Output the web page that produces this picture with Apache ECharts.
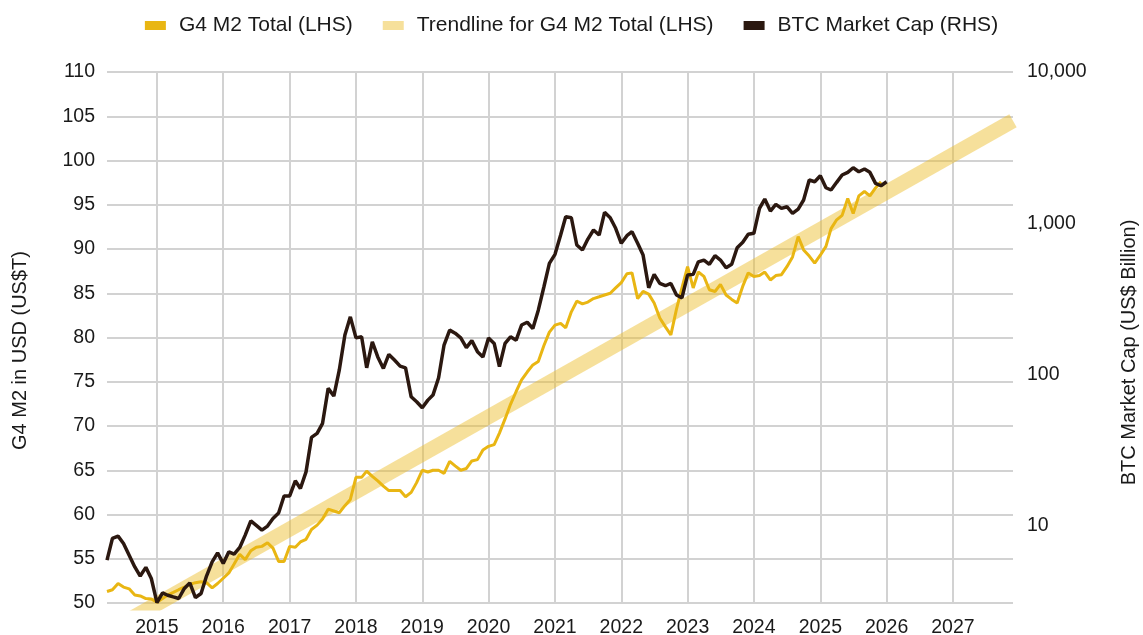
<!DOCTYPE html>
<html>
<head>
<meta charset="utf-8">
<script src="https://cdn.jsdelivr.net/npm/echarts@6/dist/echarts.min.js"></script>
<style>
  html, body { margin: 0; padding: 0; background: #fff; }
  #main { width: 1143px; height: 635px; }
</style>
</head>
<body>
<div id="main"></div>
<script>
// monthly points, first one is April 2014
const startYear = 2014
const startMonth = 4

// G4 M2 total, US$ trillion (LHS), Apr 2014 .. Dec 2025
const m2Values = [
  51.3, 51.5, 52.2, 51.8, 51.6, 50.9, 50.8, 50.5, 50.45,
  50.1, 50.5, 50.9, 51.2, 51.5, 51.8, 52.1, 52.3, 52.4, 52.3, 51.7, 52.2,
  52.8, 53.4, 54.4, 55.5, 54.9, 55.9, 56.3, 56.4, 56.8, 56.2, 54.7, 54.7,
  56.4, 56.3, 56.9, 57.2, 58.3, 58.8, 59.5, 60.6, 60.4, 60.2, 61.0, 61.7,
  64.2, 64.2, 64.9, 64.3, 63.8, 63.2, 62.7, 62.7, 62.7, 62.0, 62.5, 63.6,
  65.0, 64.8, 65.0, 65.0, 64.65, 66.0, 65.5, 65.0, 65.2, 66.05, 66.2, 67.3,
  67.7, 67.9, 69.2, 70.8, 72.45, 73.9, 75.2, 76.1, 76.9, 77.3, 79.1, 80.6,
  81.4, 81.6, 81.1, 82.9, 84.1, 83.8, 84.0, 84.4, 84.6, 84.8, 85.0, 85.6,
  86.2, 87.2, 87.3, 84.4, 85.2, 84.9, 83.9, 82.2, 81.2, 80.3, 83.2, 85.6,
  88.0, 85.6, 87.4, 86.9, 85.4, 85.2, 86.0, 84.8, 84.3, 83.9, 85.8, 87.3,
  86.9, 87.0, 87.4, 86.5, 87.0, 87.1, 88.0, 89.1, 91.4, 89.9, 89.2, 88.4,
  89.3, 90.3, 92.3, 93.3, 93.8, 95.7, 94.0, 96.0, 96.5, 96.0, 96.9, 97.6
]

// BTC market cap, US$ billion (RHS), Apr 2014 .. Jan 2026
const btcValues = [
  5.95, 8.28, 8.58, 7.67, 6.42, 5.37, 4.67, 5.33, 4.50,
  3.12, 3.62, 3.49, 3.40, 3.32, 3.87, 4.21, 3.37, 3.58, 4.67, 5.80, 6.65,
  5.66, 6.75, 6.52, 7.22, 8.71, 10.8, 10.1, 9.40, 9.99, 11.2, 12.2, 15.8,
  15.8, 19.9, 17.7, 22.8, 38.5, 40.9, 47.7, 81.2, 72.2, 107, 183, 241,
  175, 178, 111, 165, 131, 110, 136, 125, 114, 111, 71.4, 66.2,
  60.4, 67.9, 73.3, 95.4, 157, 197, 188, 175, 151, 168, 142, 131,
  175, 161, 113, 161, 178, 169, 213, 222, 202, 267, 381, 544,
  624, 837, 1106, 1089, 719, 666, 787, 903, 837, 1182, 1089, 927,
  738, 828, 880, 738, 617, 375, 460, 401, 387, 401, 336, 322,
  455, 460, 557, 572, 536, 611, 572, 509, 536, 690, 749, 846,
  859, 1256, 1447, 1206, 1335, 1256, 1288, 1165, 1243, 1426, 1933, 1884,
  2064, 1719, 1660, 1866, 2085, 2173, 2331, 2193, 2285, 2173, 1838, 1772,
  1884
]

// linear trend of G4 M2 (LHS), end points
const trendDates = ['2014-04-01', '2027-11-28']
const trendValues = [46.7, 104.5]

const leftTicks = { min: 50, max: 110, step: 5 }
const rightTicks = { min: 3.1, max: 10000 }
const xRange = ['2014-04-01', '2027-11-28']

let months = []
for (let i = 0; i < btcValues.length; i++) {
    let k = startMonth - 1 + i
    let y = startYear + Math.floor(k / 12)
    let mo = k % 12 + 1
    months.push(y + '-' + String(mo).padStart(2, '0') + '-01')
}

const font = "'Liberation Sans', Arial, sans-serif"
const YEAR = 365.25 * 24 * 3600 * 1000

var myChart = echarts.init(document.getElementById('main'))

var option = {
    animation: false,
    backgroundColor: '#fff',
    textStyle: { fontFamily: font },
    legend: {
        top: 10,
        left: 'center',
        icon: 'rect',
        itemWidth: 21,
        itemHeight: 9,
        itemGap: 30,
        data: ['G4 M2 Total (LHS)', 'Trendline for G4 M2 Total (LHS)', 'BTC Market Cap (RHS)'],
        textStyle: { fontSize: 21, color: '#1a1a1a', fontFamily: font, padding: [0, 0, 0, 8] }
    },
    grid: {
        left: 107, right: 130, top: 72, bottom: 32,
        containLabel: false,
        outerBoundsMode: 'none'
    },
    xAxis: {
        type: 'time',
        min: xRange[0],
        max: xRange[1],
        minInterval: YEAR,
        maxInterval: YEAR,
        axisLine: { show: false },
        axisTick: { show: false },
        axisLabel: {
            fontSize: 19.5,
            color: '#1a1a1a',
            margin: 15,
            showMinLabel: false,
            showMaxLabel: false,
            formatter: v => String(new Date(v).getFullYear())
        },
        splitLine: {
            show: true,
            showMinLine: false,
            showMaxLine: false,
            lineStyle: { color: '#d2d2d2', width: 2 }
        }
    },
    yAxis: [
        {
            type: 'value',
            min: leftTicks.min,
            max: leftTicks.max,
            interval: leftTicks.step,
            name: 'G4 M2 in USD (US$T)',
            nameLocation: 'middle',
            nameRotate: 90,
            nameGap: 77,
            nameTextStyle: { fontSize: 20, color: '#1a1a1a', padding: [0, 26, 0, 0] },
            axisLine: { show: false },
            axisTick: { show: false },
            axisLabel: { fontSize: 19.5, color: '#1a1a1a', margin: 12 },
            splitLine: { show: true, lineStyle: { color: '#d2d2d2', width: 2 } }
        },
        {
            type: 'log',
            logBase: 10,
            min: rightTicks.min,
            max: rightTicks.max,
            position: 'right',
            name: 'BTC Market Cap (US$ Billion)',
            nameLocation: 'middle',
            nameRotate: 90,
            nameGap: 106,
            nameTextStyle: { fontSize: 20, color: '#1a1a1a', padding: [0, 30, 0, 0] },
            axisLine: { show: false },
            axisTick: { show: false },
            axisLabel: {
                fontSize: 19.5,
                color: '#1a1a1a',
                margin: 14,
                showMinLabel: false,
                formatter: v => Math.round(v).toLocaleString('en-US')
            },
            splitLine: { show: false }
        }
    ],
    series: [
        {
            name: 'Trendline for G4 M2 Total (LHS)',
            type: 'line',
            yAxisIndex: 0,
            symbol: 'none',
            clip: true,
            data: trendDates.map((d, i) => [d, trendValues[i]]),
            lineStyle: { color: 'rgba(236,190,45,0.48)', width: 15 },
            itemStyle: { color: 'rgba(236,190,45,0.48)' },
            z: 1
        },
        {
            name: 'G4 M2 Total (LHS)',
            type: 'line',
            yAxisIndex: 0,
            symbol: 'none',
            data: m2Values.map((v, i) => [months[i], v]),
            lineStyle: { color: '#e9b613', width: 3 },
            itemStyle: { color: '#e9b613' },
            z: 2
        },
        {
            name: 'BTC Market Cap (RHS)',
            type: 'line',
            yAxisIndex: 1,
            symbol: 'none',
            data: btcValues.map((v, i) => [months[i], v]),
            lineStyle: { color: '#2b1810', width: 3.5 },
            itemStyle: { color: '#2b1810' },
            z: 3
        }
    ]
}

myChart.setOption(option)
</script>
</body>
</html>
